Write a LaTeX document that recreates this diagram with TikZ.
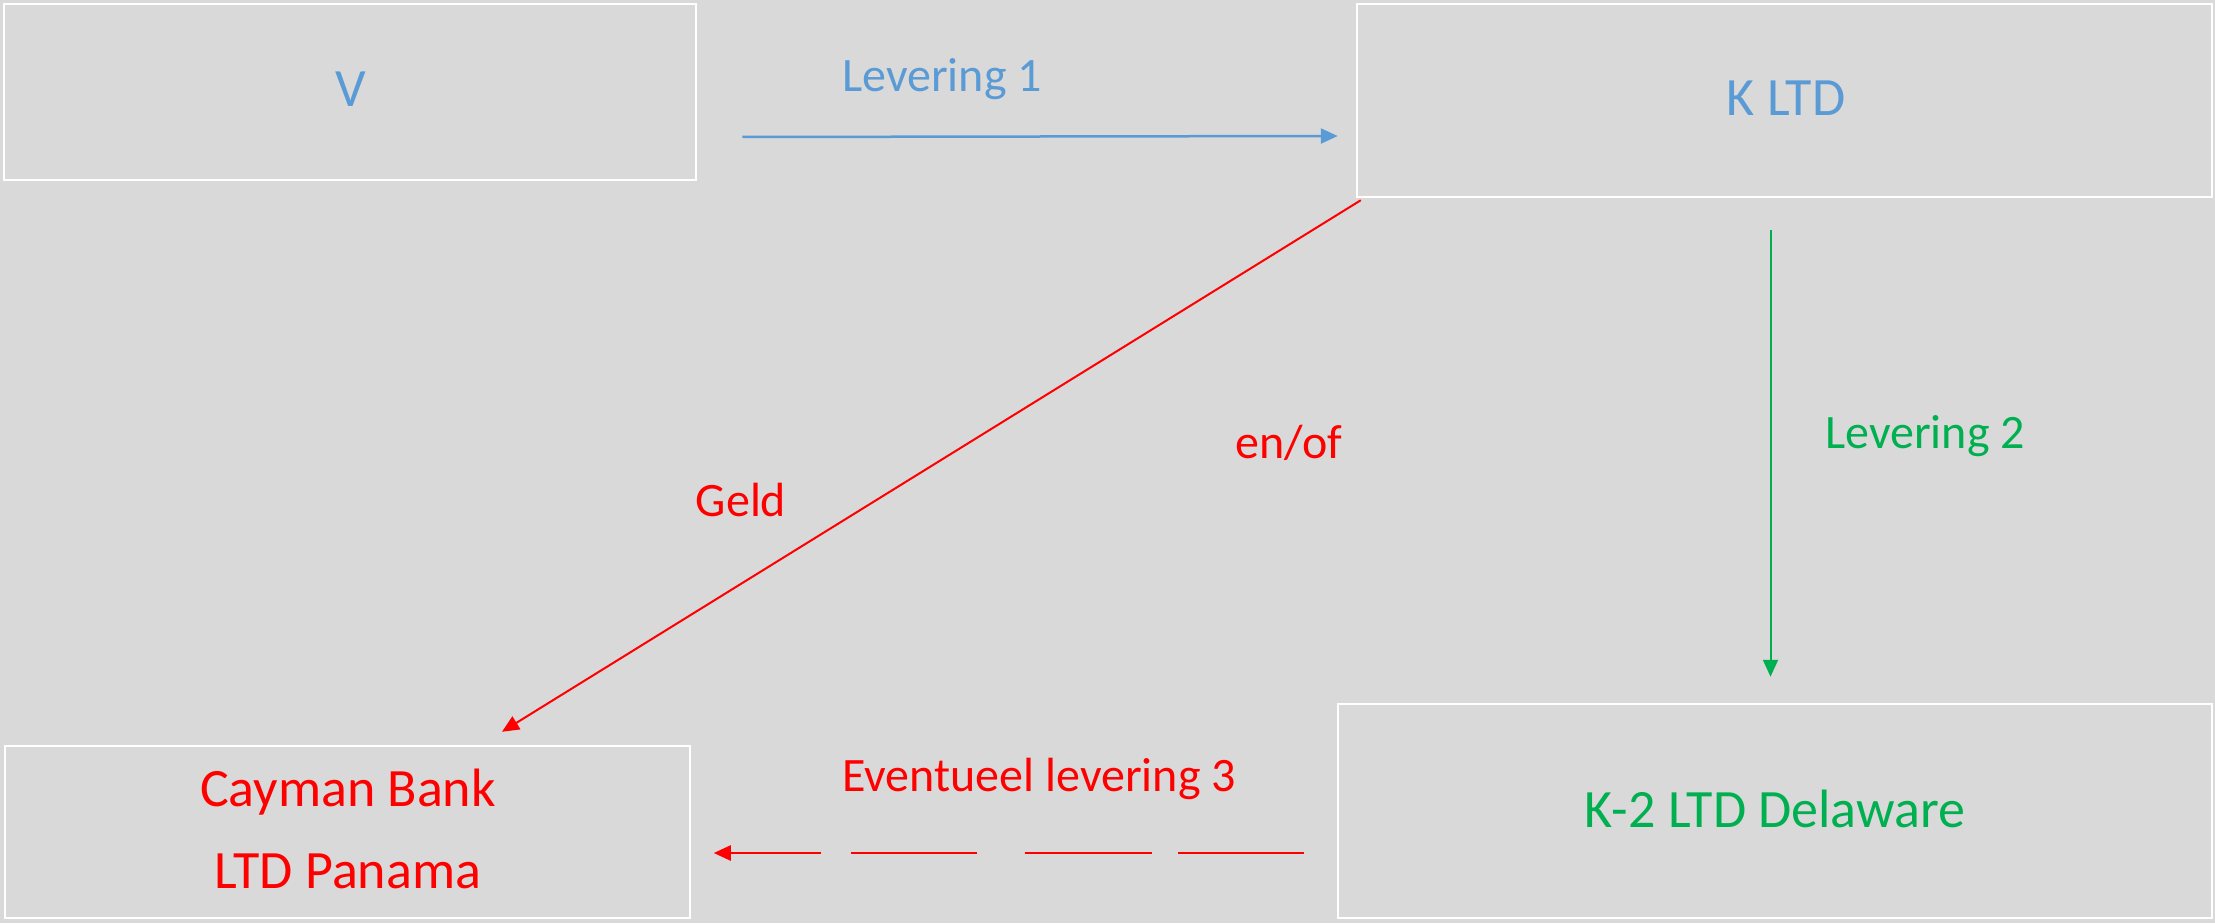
\documentclass[tikz,border=0pt]{standalone}
\usepackage{fontspec}
\setmainfont{Carlito}
\usetikzlibrary{arrows.meta}
\definecolor{bg}{HTML}{D9D9D9}
\definecolor{cblue}{HTML}{5B9BD5}
\definecolor{cred}{HTML}{FF0000}
\definecolor{cgreen}{HTML}{00B050}
\begin{document}
\begin{tikzpicture}[x=1pt,y=-1pt,
  box/.style={draw=white,line width=2.5pt,rectangle,inner sep=0pt},
  big/.style={font=\fontsize{54}{65}\selectfont,anchor=base,inner sep=0pt},
  small/.style={font=\fontsize{48}{58}\selectfont,anchor=base,inner sep=0pt},
  tip/.style={-{Triangle[length=17pt,width=15pt]}},
]
\fill[bg] (0,0) rectangle (2215,923);
\useasboundingbox (0,0) rectangle (2215,923);
% boxes
\node[box,minimum width=692pt,minimum height=176pt] (v) at (350,92) {};
\node[box,minimum width=855pt,minimum height=193pt] (kltd) at (1784.5,100.5) {};
\node[box,minimum width=874pt,minimum height=214pt] (k2) at (1775,811) {};
\node[box,minimum width=685pt,minimum height=172pt] (cay) at (347.5,832) {};
% texts
\node[big,text=cblue] (vt) at (351,107) {V};
\node[small,text=cblue] (l1) at (942,92) {Levering 1};
\node[big,text=cblue] (kt) at (1786,116) {K LTD};
\node[small,text=cred] (geld) at (741,516) {Geld};
\node[small,text=cred] (enof) at (1289,458) {en/of};
\node[small,text=cgreen] (l2) at (1925,448) {Levering 2};
\node[big,text=cgreen] (k2t) at (1775,827) {K-2 LTD Delaware};
\node[big,text=cred] (cb1) at (348,806) {Cayman Bank};
\node[big,text=cred] (cb2) at (348,888) {LTD Panama};
\node[small,text=cred] (ev) at (1039,791) {Eventueel levering 3};
% connectors
\draw[cblue,line width=2.5pt,tip] ([shift={(45,45)}]v.east) -- ([shift={(-18,35.5)}]kltd.west);
\draw[cgreen,line width=2pt,tip] ([shift={(-14,32)}]kltd.south) -- ([shift={(-4.5,-26)}]k2.north);
\draw[cred,line width=2pt,tip] ([shift={(5,2)}]kltd.south west) -- ([shift={(154.5,-13)}]cay.north);
% eventual delivery 3 (broken line)
\coordinate (d3a) at ([shift={(-33,42)}]k2.west);
\coordinate (d3b) at ([shift={(-159,42)}]k2.west);
\coordinate (d2a) at ([shift={(-185,42)}]k2.west);
\coordinate (d2b) at ([shift={(-312,42)}]k2.west);
\coordinate (d1a) at ([shift={(-360,42)}]k2.west);
\coordinate (d1b) at ([shift={(-486,42)}]k2.west);
\coordinate (d0) at ([shift={(-516,42)}]k2.west);
\draw[cred,line width=1.5pt] (d3a) -- (d3b) (d2a) -- (d2b) (d1a) -- (d1b);
\draw[cred,line width=2.5pt,tip] (d0) -- ([shift={(22.5,21)}]cay.east);
\end{tikzpicture}
\end{document}
